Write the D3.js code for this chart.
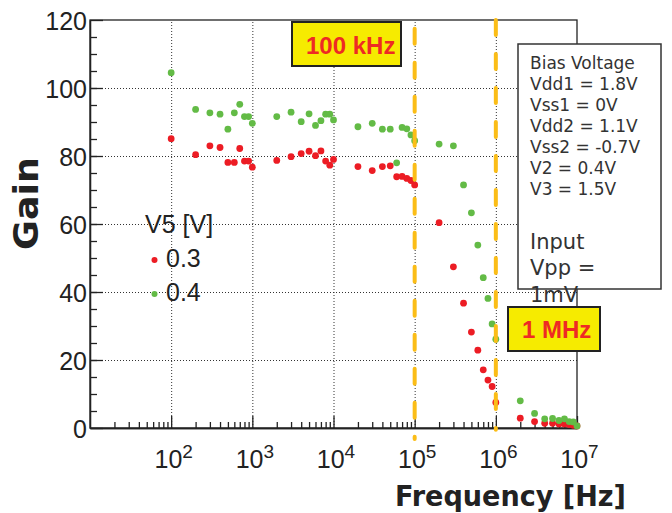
<!DOCTYPE html>
<html>
<head>
<meta charset="utf-8">
<script src="https://cdn.jsdelivr.net/npm/d3@7"></script>
<style>
  body { margin: 0; background: #fff; }
  svg { display: block; }
  .tick text { font-family: "Liberation Sans", Arial, sans-serif; fill: #222; }
  .grid line { stroke: #333; stroke-dasharray: 1 2; }
  .grid path { display: none; }
  .axis path, .axis line { stroke: #222; stroke-width: 1.3; }
</style>
</head>
<body>
<div id="chart"></div>
<script>
// measured points, Gain vs frequency for two V5 settings
var freqs = [1e2, 2e2, 3e2, 4e2, 5e2, 6e2, 7e2, 8e2, 9e2,
             1e3, 2e3, 3e3, 4e3, 5e3, 6e3, 7e3, 8e3, 9e3,
             1e4, 2e4, 3e4, 4e4, 5e4, 6e4, 7e4, 8e4, 9e4,
             1e5, 2e5, 3e5, 4e5, 5e5, 6e5, 7e5, 8e5, 9e5,
             1e6, 2e6, 3e6, 4e6, 5e6, 6e6, 7e6, 8e6, 9e6, 1e7];
var gainV03 = [85.1, 80.4, 83.0, 82.5, 78.1, 78.1, 82.2, 78.5, 78.5,
               76.7, 78.7, 79.8, 80.7, 81.4, 80.1, 81.5, 78.5, 77.3,
               79.0, 76.9, 75.7, 76.9, 77.1, 73.9, 74.0, 73.4, 72.8,
               71.5, 60.4, 47.4, 36.7, 28.2, 22.9, 17.1, 14.1, 12.2,
               7.5, 2.9, 1.9, 1.4, 1.4, 1.2, 1.2, 1.0, 0.8, 0.6];
var gainV04 = [104.5, 93.7, 92.7, 92.3, 87.9, 92.7, 95.2, 91.6, 91.6,
               89.6, 91.6, 92.9, 90.1, 92.4, 89.0, 90.4, 92.3, 92.3,
               90.6, 88.6, 89.6, 87.9, 87.9, 78.0, 88.4, 88.0, 86.2,
               84.5, 83.5, 83.0, 71.5, 63.3, 53.8, 44.2, 38.1, 30.6,
               26.1, 8.0, 4.3, 2.7, 2.8, 2.2, 2.7, 1.9, 1.8, 0.6];
var seriesNames = ["0.3", "0.4"];
var xLabelTicks = [1e2, 1e3, 1e4, 1e5, 1e6, 1e7];
var xGridTicks = [1e2, 1e3, 1e4, 1e5, 1e6];
var yLabelTicks = [0, 20, 40, 60, 80, 100, 120];
var yGridTicks = [20, 40, 60, 80, 100];
var markerFreqs = [1e5, 1e6];
var markerLabels = ["100 kHz", "1 MHz"];
var markerSpan = [[-3.2, 117.4], [-0.5, 120]];   // gain range covered by each dashed line
var biasLines = ["Bias Voltage", "Vdd1 = 1.8V", "Vss1 = 0V", "Vdd2 = 1.1V",
                 "Vss2 = -0.7V", "V2 = 0.4V", "V3 = 1.5V"];
var inputLines = ["Input", "Vpp =", "1mV"];

var W = 672, H = 513;
var plot = { left: 90, right: 577, top: 20, bottom: 428 };
var colors = ["#ec1c24", "#63bb46"];

var x = d3.scaleLog().domain([10, 1e7]).range([plot.left, plot.right]);
var y = d3.scaleLinear().domain([0, 120]).range([plot.bottom, plot.top]);

var minorX = [];
[1e1, 1e2, 1e3, 1e4, 1e5, 1e6].forEach(function(d) {
  for (var k = 2; k <= 9; k++) minorX.push(d * k);
});
var minorY = d3.range(5, 120, 5);

var svg = d3.select("#chart").append("svg")
    .attr("width", W)
    .attr("height", H)
    .style("background", "#fff");

// dotted grid
svg.append("g")
    .attr("class", "grid")
    .attr("transform", "translate(0," + plot.bottom + ")")
    .call(d3.axisBottom(x).tickValues(xGridTicks).tickSize(-(plot.bottom - plot.top)).tickFormat(""));
svg.append("g")
    .attr("class", "grid")
    .attr("transform", "translate(" + plot.left + ",0)")
    .call(d3.axisLeft(y).tickValues(yGridTicks).tickSize(-(plot.right - plot.left)).tickFormat(""));

// frame
svg.append("rect")
    .attr("x", x(10)).attr("y", y(120))
    .attr("width", x(1e7) - x(10)).attr("height", y(0) - y(120))
    .attr("fill", "none").attr("stroke", "#222").attr("stroke-width", 1.3);

// x axis: minor + major inner ticks
var gx = svg.append("g")
    .attr("class", "axis")
    .attr("transform", "translate(0," + plot.bottom + ")");
gx.append("g").call(d3.axisBottom(x).tickValues(minorX).tickSize(-6).tickSizeOuter(0).tickFormat(""));
var gxMajor = gx.append("g").call(d3.axisBottom(x).tickValues(xLabelTicks).tickSize(-12).tickSizeOuter(0));
gxMajor.selectAll(".tick text").each(function(d) {
  var t = d3.select(this);
  t.text(null).attr("y", 40).attr("dy", null).attr("dx", 2)
    .attr("font-size", 25).attr("text-anchor", "middle");
  t.append("tspan").text("10");
  t.append("tspan").attr("dy", -10).attr("font-size", 19).text(Math.round(Math.log10(d)));
});

// y axis
var gy = svg.append("g")
    .attr("class", "axis")
    .attr("transform", "translate(" + plot.left + ",0)");
gy.append("g").call(d3.axisLeft(y).tickValues(minorY).tickSize(-7).tickSizeOuter(0).tickFormat(""));
gy.append("g").call(d3.axisLeft(y).tickValues(yLabelTicks).tickSize(-13).tickSizeOuter(0).tickPadding(3))
  .selectAll(".tick text")
    .attr("font-size", 25)
    .attr("dy", "0.38em");

// data points
[gainV03, gainV04].forEach(function(vals, si) {
  svg.append("g").selectAll("circle")
    .data(freqs.map(function(f, i) { return [f, vals[i]]; }))
    .enter().append("circle")
      .attr("cx", function(d) { return x(d[0]); })
      .attr("cy", function(d) { return y(d[1]); })
      .attr("r", 3.4)
      .attr("fill", colors[si]);
});

// dashed frequency markers
svg.append("g").selectAll("line")
  .data(markerFreqs)
  .enter().append("line")
    .attr("x1", function(d) { return x(d); })
    .attr("x2", function(d) { return x(d); })
    .attr("y1", function(d, i) { return y(markerSpan[i][1]); })
    .attr("y2", function(d, i) { return y(markerSpan[i][0]); })
    .attr("stroke", "#fbbd17")
    .attr("stroke-width", 4)
    .attr("stroke-linecap", "round")
    .attr("stroke-dasharray", "15 19");

// marker label boxes
var boxes = [{ x: 292, y: 22, w: 109, h: 44, tx: 306, ty: 54 },
             { x: 508, y: 307, w: 92, h: 44, tx: 522, ty: 338 }];
markerLabels.forEach(function(lbl, i) {
  var b = boxes[i];
  svg.append("rect")
      .attr("x", b.x).attr("y", b.y).attr("width", b.w).attr("height", b.h)
      .attr("fill", "#f6eb00").attr("stroke", "#222").attr("stroke-width", 2);
  svg.append("text")
      .attr("x", b.tx).attr("y", b.ty)
      .attr("font-family", "Liberation Sans, Arial, sans-serif")
      .attr("font-weight", "bold")
      .attr("font-size", 24)
      .attr("fill", "#ee2a24")
      .text(lbl);
});

// bias voltage box
svg.append("rect")
    .attr("x", 518).attr("y", 44).attr("width", 143).attr("height", 245)
    .attr("fill", "#fff").attr("stroke", "#333").attr("stroke-width", 1.5);
svg.append("g").selectAll("text")
  .data(biasLines)
  .enter().append("text")
    .attr("x", 530)
    .attr("y", function(d, i) { return 68.5 + i * 21.1; })
    .attr("font-family", "DejaVu Sans, sans-serif")
    .attr("font-size", 17)
    .attr("fill", "#333")
    .text(function(d) { return d; });
svg.append("g").selectAll("text")
  .data(inputLines)
  .enter().append("text")
    .attr("x", 530)
    .attr("y", function(d, i) { return 248.5 + i * 26.6; })
    .attr("font-family", "DejaVu Sans, sans-serif")
    .attr("font-size", 21)
    .attr("fill", "#333")
    .text(function(d) { return d; });

// legend
var legend = svg.append("g")
    .attr("font-family", "Liberation Sans, Arial, sans-serif")
    .attr("font-size", 25)
    .attr("fill", "#222");
legend.append("text").attr("x", 145).attr("y", 233).text("V5 [V]");
seriesNames.forEach(function(name, i) {
  legend.append("circle")
      .attr("cx", 154.5).attr("cy", 260 + i * 34)
      .attr("r", 3).attr("fill", colors[i]);
  legend.append("text")
      .attr("x", 166).attr("y", 267 + i * 33.5)
      .text(name);
});

// axis titles
svg.append("text")
    .attr("transform", "translate(37.5,203.5) rotate(-90)")
    .attr("text-anchor", "middle")
    .attr("font-family", "DejaVu Sans, sans-serif")
    .attr("font-weight", "bold")
    .attr("font-size", 33)
    .attr("textLength", 93)
    .attr("lengthAdjust", "spacingAndGlyphs")
    .attr("fill", "#222")
    .text("Gain");
svg.append("text")
    .attr("x", 626).attr("y", 506)
    .attr("text-anchor", "end")
    .attr("font-family", "DejaVu Sans, sans-serif")
    .attr("font-weight", "bold")
    .attr("font-size", 29)
    .attr("textLength", 231)
    .attr("lengthAdjust", "spacingAndGlyphs")
    .attr("fill", "#222")
    .text("Frequency [Hz]");
</script>
</body>
</html>
